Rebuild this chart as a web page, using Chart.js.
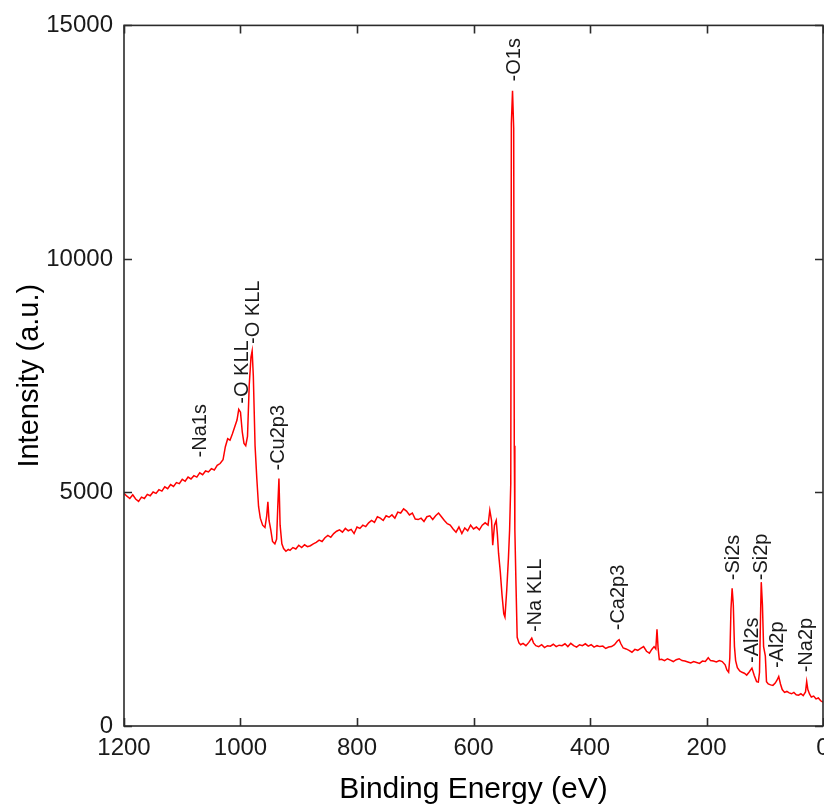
<!DOCTYPE html>
<html>
<head>
<meta charset="utf-8">
<script src="https://cdn.jsdelivr.net/npm/chart.js@4.4.1/dist/chart.umd.min.js"></script>
<style>
  html, body { margin: 0; padding: 0; background: #fff; }
</style>
</head>
<body>
<canvas id="xps" width="824" height="806"></canvas>
<script>
// XPS survey spectrum, [binding energy (eV), intensity]
const highBE = [
  [1200,4980],[1195,4920],[1190,4870],[1185,4950],[1180,4860],[1175,4810],[1170,4900],
  [1165,4870],[1160,4960],[1155,4930],[1150,5010],[1145,4980],[1140,5060],[1135,5030],
  [1130,5120],[1125,5080],[1120,5170],[1115,5130],[1110,5210],[1105,5190],[1100,5280],
  [1095,5240],[1090,5330],[1085,5290],[1080,5360],[1075,5330],[1070,5420],[1065,5380],
  [1060,5460],[1055,5440],[1050,5510],[1045,5480],[1040,5580],[1035,5620],[1030,5700],
  [1026,5980],[1022,6150],[1018,6120],[1014,6250],[1010,6400],[1006,6550],[1003,6780],
  [1000,6720],[997,6300],[994,6050],[991,6000],[988,6200],[985,7300],[982,7900],
  [980,8030],[978,7500],[975,6000],[972,5300],[969,4700],[966,4450],[962,4300],
  [958,4250],[955,4500],[953,4800],[951,4400],[948,4200],[945,3950],[941,3900],
  [938,4000],[936,4700],[934,5300],[932,4300],[929,3900],[926,3800],[922,3740],[918,3780]
];
const midBE = [
  [915,3760],[910,3820],[905,3790],[900,3870],[895,3820],[890,3880],[885,3840],[880,3860],
  [875,3900],[870,3930],[865,3980],[860,3950],[855,4030],[850,4080],[845,4040],[840,4120],
  [835,4170],[830,4200],[825,4150],[820,4230],[815,4180],[810,4210],[805,4120],[800,4260],
  [795,4230],[790,4300],[785,4270],[780,4350],[775,4400],[770,4360],[765,4480],[760,4450],
  [755,4400],[750,4500],[745,4470],[740,4520],[735,4450],[730,4580],[725,4560],[720,4650],
  [715,4600],[710,4520],[705,4560],[700,4430],[695,4420],[690,4450],[685,4380],[680,4480],
  [675,4500],[670,4420],[665,4500],[660,4560],[655,4480],[650,4400],[645,4330],[640,4300],
  [635,4220],[630,4150],[625,4260],[620,4120],[615,4240],[610,4180],[605,4300],[600,4220],
  [595,4260],[590,4200],[585,4300],[580,4350],[575,4300]
];
const o1sRegion = [
  [572,4620],[569,4400],[567,3870],[564,4300],[561,4400],[559,4100],[557,3700],[554,3300],
  [551,2800],[548,2400],[546,2330],[543,2900],[540,3600],[538,4200],[536,5200],[535,12900],
  [533,13600],[531,12800],[530,6000],[529,4200],[527,3000],[525,1900],[522,1780]
];
const lowBE = [
  [519,1740],[515,1770],[510,1720],[505,1790],[500,1880],[497,1780],[493,1720],[488,1700],
  [483,1740],[478,1680],[473,1720],[468,1710],[463,1750],[458,1700],[453,1730],[448,1720],
  [443,1760],[438,1700],[433,1770],[428,1720],[423,1690],[418,1740],[413,1720],[408,1760],
  [403,1710],[398,1740],[393,1690],[388,1720],[383,1700],[378,1710],[373,1660],[368,1690],
  [363,1700],[358,1740],[353,1820],[350,1850],[347,1760],[343,1670],[338,1650],[333,1620],
  [328,1580],[323,1640],[318,1620],[313,1660],[308,1700],[303,1600],[298,1560],[294,1640],
  [290,1700],[287,1650],[285,2070],[283,1650],[281,1420],[277,1430],[272,1400],[267,1440],
  [262,1410],[257,1380],[252,1420],[247,1440],[242,1400],[237,1390],[232,1370],[227,1350],
  [222,1380],[217,1360],[212,1340],[207,1390],[202,1380],[197,1460],[193,1400],[188,1390],
  [183,1370],[178,1400],[173,1380],[168,1310],[165,1200],[162,1150],[160,1450],[158,2500],
  [156,2950],[154,2600],[152,1700],[150,1400],[147,1250],[143,1180],[139,1150],[135,1130],
  [131,1090],[127,1150],[122,1240],[118,1080],[114,950],[111,940],[109,1150],[107,2500],
  [106,3080],[104,2600],[102,1700],[99,1500],[97,950],[94,900],[90,880],[86,870],
  [82,920],[79,980],[76,1060],[73,900],[70,780],[66,720],[62,740],[58,710],
  [54,690],[50,720],[46,670],[42,660],[38,690],[34,650],[30,730],[28,950],
  [26,780],[23,680],[20,620],[16,640],[12,580],[8,600],[4,540],[0,510]
];

// peak annotations
const peakNames = ['Na1s', 'O KLL', 'O KLL', 'Cu2p3', 'O1s', 'Na KLL', 'Ca2p3', 'Si2s', 'Al2s', 'Si2p', 'Al2p', 'Na2p'];
const peakEnergy = [1069.5, 997.4, 978.5, 935.6, 528.8, 494.4, 351.9, 154.5, 120.2, 105.7, 78.2, 28.4];
const peakLabelY = [5750, 6900, 8180, 5470, 13800, 2010, 2050, 3120, 1350, 3120, 1240, 1150];

const xTicks = [0, 200, 400, 600, 800, 1000, 1200];
const yTicks = [0, 5000, 10000, 15000];

const spectrum = [...highBE, ...midBE, ...o1sRegion, ...lowBE].map(p => ({ x: p[0], y: p[1] }));

const FONT = "'Liberation Sans', Arial, sans-serif";

// box around the plot + inward ticks on all four sides
const framePlugin = {
  id: 'frame',
  afterDraw(chart) {
    const { ctx, chartArea: a, scales: { x, y } } = chart;
    ctx.save();
    ctx.strokeStyle = '#2b2b2b';
    ctx.lineWidth = 1.6;
    ctx.strokeRect(a.left, a.top, a.right - a.left, a.bottom - a.top);
    ctx.beginPath();
    xTicks.forEach(v => {
      const px = Math.round(x.getPixelForValue(v)) + 0.5;
      ctx.moveTo(px, a.bottom); ctx.lineTo(px, a.bottom - 8);
      ctx.moveTo(px, a.top); ctx.lineTo(px, a.top + 8);
    });
    yTicks.forEach(v => {
      const py = Math.round(y.getPixelForValue(v)) + 0.5;
      ctx.moveTo(a.left, py); ctx.lineTo(a.left + 8, py);
      ctx.moveTo(a.right, py); ctx.lineTo(a.right - 8, py);
    });
    ctx.stroke();
    ctx.restore();
  }
};

const labelPlugin = {
  id: 'peakLabels',
  afterDatasetsDraw(chart) {
    const { ctx, scales: { x, y } } = chart;
    ctx.save();
    ctx.fillStyle = '#1a1a1a';
    ctx.font = '20px ' + FONT;
    ctx.textAlign = 'left';
    ctx.textBaseline = 'middle';
    peakNames.forEach((name, i) => {
      ctx.save();
      ctx.translate(x.getPixelForValue(peakEnergy[i]), y.getPixelForValue(peakLabelY[i]));
      ctx.rotate(-Math.PI / 2);
      ctx.fillText('-' + name, 0, 0);
      ctx.restore();
    });
    ctx.restore();
  }
};

new Chart(document.getElementById('xps'), {
  type: 'line',
  data: {
    datasets: [{
      data: spectrum,
      borderColor: '#ff0000',
      borderWidth: 1.5,
      pointRadius: 0,
      tension: 0,
      fill: false
    }]
  },
  options: {
    responsive: false,
    animation: false,
    devicePixelRatio: 1,
    layout: { padding: { top: 24, right: 1, left: 0, bottom: 0 } },
    plugins: {
      legend: { display: false },
      tooltip: { enabled: false }
    },
    scales: {
      x: {
        type: 'linear',
        reverse: true,
        min: 0,
        max: 1200,
        afterBuildTicks: s => { s.ticks = xTicks.map(v => ({ value: v })); },
        afterFit: s => { s.height = 80; s.paddingLeft = 0; s.paddingRight = 0; },
        grid: { display: false, drawTicks: false },
        border: { display: false },
        ticks: {
          color: '#1a1a1a',
          padding: 8,
          maxRotation: 0,
          callback: v => String(v),
          font: { family: FONT, size: 24 }
        },
        title: {
          display: true,
          text: 'Binding Energy (eV)',
          color: '#000',
          padding: { top: 0, bottom: 0 },
          font: { family: FONT, size: 30, lineHeight: 1.1 }
        }
      },
      y: {
        min: 0,
        max: 15000,
        afterBuildTicks: s => { s.ticks = yTicks.map(v => ({ value: v })); },
        afterFit: s => { s.width = 124; },
        grid: { display: false, drawTicks: false },
        border: { display: false },
        ticks: {
          color: '#1a1a1a',
          padding: 11,
          callback: v => String(v),
          font: { family: FONT, size: 24 }
        },
        title: {
          display: true,
          text: 'Intensity (a.u.)',
          color: '#000',
          padding: { top: 13, bottom: 0 },
          font: { family: FONT, size: 29, lineHeight: 1.2 }
        }
      }
    }
  },
  plugins: [framePlugin, labelPlugin]
});
</script>
</body>
</html>
